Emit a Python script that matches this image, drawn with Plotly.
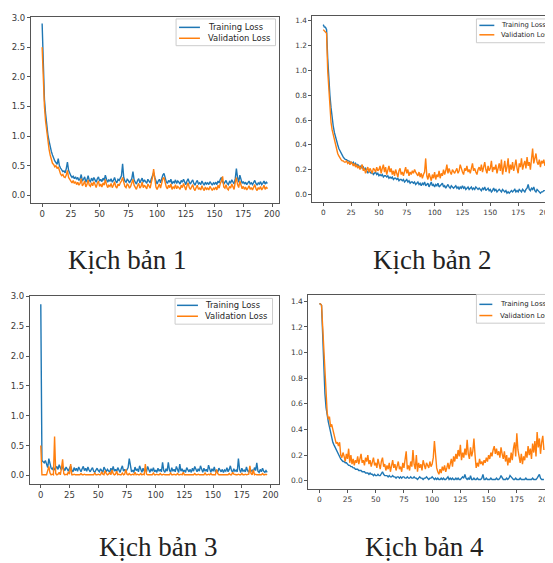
import plotly.graph_objects as go

# ---------------- data ----------------
epochs_a = list(range(0, 197))   # Kịch bản 1
epochs_b = list(range(0, 200))   # Kịch bản 2
epochs_c = list(range(0, 198))   # Kịch bản 3
epochs_d = list(range(0, 200))   # Kịch bản 4

train_1 = [
    2.90, 2.05, 1.62, 1.38, 1.18, 1.02, 0.92, 0.80, 0.74, 0.68, 0.62, 0.58, 0.55, 0.52, 0.62, 0.50, 0.46, 0.42, 0.40, 0.41,
    0.38, 0.45, 0.56, 0.42, 0.36, 0.33, 0.30, 0.32, 0.28, 0.31,
    0.27, 0.30, 0.25, 0.28, 0.35, 0.24, 0.27, 0.31, 0.22, 0.26, 0.33, 0.25, 0.23, 0.29, 0.24, 0.30, 0.26, 0.22, 0.28, 0.31,
    0.24, 0.27, 0.23, 0.29, 0.25, 0.34, 0.27, 0.22, 0.26, 0.24,
    0.28, 0.22, 0.25, 0.30, 0.24, 0.21, 0.27, 0.25, 0.29, 0.33, 0.53, 0.30, 0.24, 0.22, 0.27, 0.25, 0.21, 0.24, 0.28, 0.40,
    0.26, 0.22, 0.19, 0.25, 0.28, 0.21, 0.24, 0.29, 0.22, 0.26,
    0.23, 0.20, 0.27, 0.24, 0.21, 0.28, 0.33, 0.38, 0.30, 0.22, 0.19, 0.24, 0.27, 0.21, 0.30, 0.34, 0.37, 0.28, 0.23, 0.20,
    0.25, 0.22, 0.27, 0.19, 0.23, 0.21, 0.26, 0.20, 0.24, 0.22,
    0.19, 0.25, 0.22, 0.27, 0.21, 0.18, 0.24, 0.28, 0.22, 0.19, 0.23, 0.26, 0.20, 0.17, 0.22, 0.25, 0.19, 0.21, 0.18, 0.24,
    0.20, 0.17, 0.22, 0.19, 0.21, 0.18, 0.23, 0.20, 0.17, 0.21,
    0.19, 0.22, 0.18, 0.24, 0.21, 0.27, 0.30, 0.23, 0.19, 0.22, 0.25, 0.20, 0.18, 0.23, 0.21, 0.26, 0.22, 0.19, 0.28, 0.45,
    0.30, 0.22, 0.34, 0.25, 0.20, 0.23, 0.19, 0.22, 0.18, 0.21,
    0.24, 0.19, 0.21, 0.18, 0.22, 0.25, 0.20, 0.17, 0.21, 0.19, 0.23, 0.18, 0.20, 0.24, 0.19, 0.22, 0.20,
]
val_1 = [
    2.50, 1.85, 1.50, 1.25, 1.05, 0.90, 0.78, 0.68, 0.60, 0.54, 0.52, 0.48, 0.50, 0.45, 0.48, 0.40, 0.36, 0.33, 0.35, 0.31,
    0.30, 0.34, 0.42, 0.30, 0.26, 0.24, 0.21, 0.25, 0.20, 0.23,
    0.18, 0.22, 0.17, 0.20, 0.28, 0.16, 0.19, 0.24, 0.14, 0.18, 0.26, 0.17, 0.15, 0.21, 0.16, 0.23, 0.18, 0.13, 0.20, 0.24,
    0.15, 0.19, 0.14, 0.21, 0.17, 0.27, 0.18, 0.13, 0.17, 0.15,
    0.20, 0.13, 0.17, 0.23, 0.15, 0.12, 0.19, 0.16, 0.21, 0.24, 0.30, 0.20, 0.15, 0.13, 0.19, 0.17, 0.12, 0.15, 0.20, 0.27,
    0.17, 0.13, 0.10, 0.16, 0.20, 0.12, 0.15, 0.22, 0.13, 0.17,
    0.14, 0.11, 0.19, 0.15, 0.12, 0.22, 0.30, 0.44, 0.26, 0.14, 0.10, 0.16, 0.19, 0.12, 0.23, 0.28, 0.30, 0.20, 0.14, 0.11,
    0.17, 0.13, 0.19, 0.10, 0.14, 0.12, 0.18, 0.11, 0.15, 0.13,
    0.10, 0.17, 0.13, 0.20, 0.12, 0.09, 0.16, 0.21, 0.13, 0.10, 0.14, 0.18, 0.11, 0.08, 0.13, 0.17, 0.10, 0.12, 0.09, 0.16,
    0.11, 0.08, 0.14, 0.10, 0.12, 0.09, 0.15, 0.11, 0.08, 0.12,
    0.10, 0.14, 0.09, 0.17, 0.12, 0.20, 0.24, 0.32, 0.14, 0.12, 0.18, 0.11, 0.09, 0.15, 0.12, 0.19, 0.13, 0.10, 0.22, 0.30,
    0.18, 0.13, 0.24, 0.16, 0.11, 0.15, 0.10, 0.14, 0.09, 0.12,
    0.16, 0.10, 0.13, 0.09, 0.14, 0.18, 0.11, 0.08, 0.13, 0.10, 0.15, 0.09, 0.12, 0.17, 0.10, 0.14, 0.11,
]

train_2 = [
    1.37, 1.35, 1.35, 1.33, 1.10, 0.92, 0.80, 0.70, 0.61, 0.55, 0.50, 0.46, 0.43, 0.40, 0.37, 0.35, 0.33, 0.31, 0.30, 0.29,
    0.28, 0.28, 0.27, 0.27, 0.26, 0.26, 0.25, 0.26, 0.24, 0.25, 0.23, 0.24, 0.23, 0.22, 0.23, 0.21, 0.22, 0.20, 0.21, 0.19,
    0.17, 0.19, 0.18, 0.17, 0.18, 0.16, 0.17, 0.18, 0.16, 0.17, 0.15, 0.16, 0.15, 0.16, 0.14, 0.15, 0.15, 0.14, 0.15, 0.13,
    0.14, 0.13, 0.14, 0.12, 0.13, 0.13, 0.12, 0.13, 0.11, 0.12, 0.12, 0.11, 0.12, 0.10, 0.11, 0.12, 0.10, 0.11, 0.09, 0.10,
    0.10, 0.09, 0.10, 0.08, 0.09, 0.10, 0.08, 0.09, 0.07, 0.09, 0.08, 0.10, 0.07, 0.08, 0.09, 0.06, 0.08, 0.10, 0.07, 0.08,
    0.06, 0.08, 0.07, 0.09, 0.06, 0.07, 0.08, 0.09, 0.06, 0.07, 0.05, 0.07, 0.08, 0.06, 0.05, 0.07, 0.06, 0.05, 0.06, 0.07,
    0.05, 0.06, 0.04, 0.06, 0.05, 0.07, 0.05, 0.06, 0.04, 0.05, 0.06, 0.04, 0.05, 0.06, 0.04, 0.05, 0.04, 0.06, 0.05, 0.04,
    0.05, 0.04, 0.03, 0.05, 0.04, 0.06, 0.03, 0.04, 0.05, 0.03, 0.04, 0.02, 0.03, 0.05, 0.03, 0.04, 0.02, 0.03, 0.04, 0.03,
    0.02, 0.04, 0.03, 0.02, 0.03, 0.01, 0.02, 0.01, 0.02, 0.03, 0.02, 0.03, 0.04, 0.02, 0.03, 0.02, 0.04, 0.03, 0.02, 0.04,
    0.03, 0.02, 0.04, 0.05, 0.08, 0.04, 0.03, 0.05, 0.04, 0.06, 0.03, 0.02, 0.04, 0.03, 0.02, 0.01, 0.02, 0.02, 0.03, 0.03,
]
val_2 = [
    1.33, 1.32, 1.31, 1.30, 1.00, 0.82, 0.68, 0.58, 0.52, 0.48, 0.44, 0.40, 0.36, 0.33, 0.31, 0.29, 0.28, 0.27, 0.27, 0.26,
    0.26, 0.27, 0.25, 0.26, 0.24, 0.26, 0.25, 0.23, 0.25, 0.22, 0.24, 0.21, 0.23, 0.20, 0.22, 0.24, 0.19, 0.21, 0.17, 0.20,
    0.22, 0.18, 0.21, 0.19, 0.17, 0.21, 0.20, 0.18, 0.22, 0.19, 0.20, 0.23, 0.17, 0.21, 0.24, 0.18, 0.22, 0.16, 0.20, 0.23,
    0.18, 0.21, 0.16, 0.19, 0.15, 0.20, 0.17, 0.14, 0.19, 0.21, 0.16, 0.18, 0.15, 0.19, 0.22, 0.17, 0.20, 0.15, 0.18, 0.16,
    0.19, 0.17, 0.20, 0.18, 0.16, 0.15, 0.18, 0.14, 0.17, 0.13, 0.16, 0.18, 0.29, 0.15, 0.12, 0.17, 0.14, 0.11, 0.16, 0.13,
    0.18, 0.12, 0.16, 0.14, 0.19, 0.13, 0.17, 0.15, 0.20, 0.16, 0.19, 0.24, 0.17, 0.21, 0.18, 0.16, 0.20, 0.18, 0.17, 0.19,
    0.21, 0.17, 0.19, 0.24, 0.20, 0.18, 0.16, 0.21, 0.19, 0.23, 0.18, 0.20, 0.17, 0.22, 0.25, 0.19, 0.21, 0.18, 0.16, 0.20,
    0.22, 0.19, 0.24, 0.18, 0.21, 0.26, 0.20, 0.17, 0.23, 0.19, 0.21, 0.27, 0.18, 0.22, 0.20, 0.24, 0.17, 0.21, 0.25, 0.19,
    0.28, 0.16, 0.23, 0.27, 0.18, 0.22, 0.29, 0.17, 0.24, 0.20, 0.26, 0.19, 0.23, 0.28, 0.21, 0.17, 0.25, 0.22, 0.29, 0.20,
    0.24, 0.27, 0.21, 0.30, 0.23, 0.26, 0.20, 0.31, 0.37, 0.25, 0.29, 0.33, 0.26, 0.24, 0.28, 0.22, 0.27, 0.25, 0.28, 0.23,
]

train_3 = [
    2.87, 0.25, 0.23, 0.21, 0.25, 0.17, 0.13, 0.28, 0.19, 0.12, 0.10, 0.14, 0.09, 0.12, 0.15, 0.10, 0.18, 0.13, 0.09, 0.15,
    0.11, 0.08, 0.14, 0.10, 0.07, 0.12, 0.16, 0.09, 0.06, 0.13, 0.08, 0.12, 0.07, 0.14, 0.09, 0.06, 0.11, 0.15, 0.08, 0.12,
    0.07, 0.14, 0.09, 0.06, 0.10, 0.13, 0.07, 0.05, 0.09, 0.12, 0.08, 0.06, 0.11, 0.07, 0.05, 0.14, 0.09, 0.06, 0.10, 0.07,
    0.05, 0.12, 0.08, 0.15, 0.07, 0.10, 0.06, 0.13, 0.09, 0.05, 0.11, 0.16, 0.07, 0.10, 0.06, 0.09, 0.13, 0.28, 0.12, 0.06,
    0.09, 0.05, 0.14, 0.08, 0.11, 0.06, 0.16, 0.09, 0.05, 0.12, 0.07, 0.10, 0.06, 0.15, 0.08, 0.05, 0.11, 0.07, 0.13, 0.06,
    0.09, 0.05, 0.12, 0.07, 0.10, 0.06, 0.22, 0.08, 0.05, 0.11, 0.07, 0.22, 0.09, 0.05, 0.13, 0.07, 0.10, 0.06, 0.15, 0.08,
    0.05, 0.19, 0.07, 0.11, 0.06, 0.09, 0.05, 0.13, 0.08, 0.06, 0.10, 0.05, 0.12, 0.07, 0.15, 0.09, 0.06, 0.11, 0.07, 0.16,
    0.08, 0.05, 0.12, 0.07, 0.10, 0.06, 0.17, 0.09, 0.05, 0.11, 0.07, 0.14, 0.06, 0.09, 0.05, 0.12, 0.08, 0.06, 0.10, 0.05,
    0.09, 0.07, 0.13, 0.06, 0.10, 0.16, 0.08, 0.05, 0.11, 0.07, 0.09, 0.06, 0.28, 0.10, 0.05, 0.12, 0.07, 0.09, 0.06, 0.14,
    0.08, 0.05, 0.11, 0.07, 0.09, 0.06, 0.13, 0.08, 0.21, 0.07, 0.05, 0.10, 0.06, 0.12, 0.07, 0.05, 0.08, 0.05,
]
val_3 = [
    0.50, 0.01, 0.01, 0.01, 0.02, 0.01, 0.08, 0.15, 0.04, 0.01, 0.02, 0.01, 0.65, 0.03, 0.01, 0.02, 0.05, 0.01, 0.12, 0.27,
    0.03, 0.01, 0.02, 0.01, 0.06, 0.02, 0.19, 0.01, 0.01, 0.02, 0.01, 0.01, 0.02, 0.01, 0.01, 0.03, 0.01, 0.01, 0.02, 0.01,
    0.01, 0.02, 0.01, 0.01, 0.01, 0.02, 0.01, 0.04, 0.01, 0.01, 0.02, 0.01, 0.01, 0.06, 0.02, 0.01, 0.08, 0.03, 0.01, 0.02,
    0.05, 0.01, 0.09, 0.03, 0.01, 0.02, 0.07, 0.01, 0.02, 0.01, 0.01, 0.04, 0.01, 0.02, 0.10, 0.02, 0.01, 0.03, 0.01, 0.01,
    0.02, 0.01, 0.05, 0.01, 0.02, 0.01, 0.01, 0.03, 0.01, 0.02, 0.01, 0.19, 0.02, 0.01, 0.01, 0.02, 0.01, 0.01, 0.04, 0.01,
    0.01, 0.02, 0.01, 0.01, 0.03, 0.01, 0.01, 0.02, 0.01, 0.01, 0.02, 0.01, 0.01, 0.04, 0.01, 0.01, 0.02, 0.01, 0.01, 0.03,
    0.01, 0.01, 0.02, 0.01, 0.05, 0.01, 0.01, 0.02, 0.01, 0.01, 0.01, 0.02, 0.01, 0.01, 0.03, 0.01, 0.01, 0.02, 0.01, 0.01,
    0.02, 0.01, 0.01, 0.04, 0.01, 0.01, 0.02, 0.01, 0.03, 0.01, 0.01, 0.02, 0.01, 0.10, 0.03, 0.01, 0.01, 0.02, 0.01, 0.01,
    0.01, 0.02, 0.01, 0.01, 0.03, 0.01, 0.01, 0.05, 0.02, 0.01, 0.01, 0.01, 0.02, 0.01, 0.01, 0.03, 0.01, 0.01, 0.02, 0.01,
    0.01, 0.02, 0.16, 0.03, 0.01, 0.09, 0.01, 0.02, 0.01, 0.01, 0.02, 0.01, 0.01, 0.03, 0.01, 0.01, 0.02, 0.01,
]

train_4 = [
    1.38, 1.38, 1.37, 1.10, 0.85, 0.68, 0.57, 0.50, 0.46, 0.42, 0.37, 0.33, 0.30, 0.28, 0.26, 0.24, 0.22, 0.20, 0.18, 0.17,
    0.16, 0.15, 0.15, 0.14, 0.14, 0.13, 0.12, 0.12, 0.11, 0.11, 0.10, 0.10, 0.09, 0.09, 0.09, 0.08, 0.08, 0.08, 0.07, 0.07,
    0.07, 0.06, 0.06, 0.06, 0.05, 0.06, 0.05, 0.05, 0.04, 0.05, 0.04, 0.04, 0.05, 0.04, 0.04, 0.06, 0.07, 0.05, 0.04, 0.04,
    0.04, 0.03, 0.04, 0.03, 0.03, 0.04, 0.03, 0.03, 0.02, 0.03, 0.03, 0.02, 0.03, 0.02, 0.03, 0.03, 0.02, 0.02, 0.03, 0.02,
    0.02, 0.03, 0.02, 0.02, 0.03, 0.02, 0.02, 0.01, 0.02, 0.03, 0.02, 0.02, 0.01, 0.02, 0.02, 0.03, 0.02, 0.01, 0.02, 0.02,
    0.03, 0.02, 0.01, 0.02, 0.01, 0.02, 0.01, 0.01, 0.02, 0.01, 0.02, 0.01, 0.01, 0.02, 0.03, 0.01, 0.02, 0.01, 0.02, 0.01,
    0.01, 0.02, 0.01, 0.02, 0.01, 0.01, 0.02, 0.03, 0.02, 0.05, 0.02, 0.01, 0.02, 0.01, 0.04, 0.01, 0.01, 0.02, 0.01, 0.01,
    0.02, 0.01, 0.01, 0.01, 0.02, 0.05, 0.01, 0.01, 0.02, 0.01, 0.01, 0.01, 0.02, 0.01, 0.01, 0.01, 0.01, 0.02, 0.01, 0.01,
    0.02, 0.04, 0.02, 0.01, 0.01, 0.01, 0.02, 0.01, 0.02, 0.04, 0.03, 0.02, 0.01, 0.01, 0.02, 0.01, 0.01, 0.01, 0.02, 0.01,
    0.01, 0.01, 0.01, 0.02, 0.01, 0.01, 0.01, 0.01, 0.01, 0.02, 0.01, 0.01, 0.01, 0.02, 0.04, 0.05, 0.02, 0.01, 0.01, 0.01,
]
val_4 = [
    1.38, 1.38, 1.37, 1.20, 0.95, 0.76, 0.62, 0.53, 0.48, 0.50, 0.42, 0.44, 0.40, 0.36, 0.31, 0.29, 0.30, 0.27, 0.30, 0.20,
    0.18, 0.22, 0.19, 0.15, 0.21, 0.17, 0.25, 0.14, 0.20, 0.13, 0.17, 0.12, 0.16, 0.14, 0.19, 0.13, 0.17, 0.21, 0.14, 0.16,
    0.12, 0.18, 0.15, 0.20, 0.13, 0.16, 0.11, 0.15, 0.18, 0.12, 0.14, 0.10, 0.17, 0.13, 0.09, 0.15, 0.18, 0.11, 0.13, 0.08,
    0.12, 0.09, 0.14, 0.07, 0.11, 0.16, 0.10, 0.13, 0.08, 0.12, 0.15, 0.09, 0.11, 0.07, 0.14, 0.10, 0.18, 0.23, 0.09, 0.12,
    0.08, 0.15, 0.11, 0.24, 0.13, 0.09, 0.20, 0.07, 0.14, 0.10, 0.13, 0.08, 0.16, 0.11, 0.09, 0.14, 0.12, 0.10, 0.15, 0.11,
    0.13, 0.18, 0.31, 0.16, 0.10, 0.07, 0.05, 0.09, 0.06, 0.11, 0.08, 0.12, 0.07, 0.10, 0.14, 0.09, 0.13, 0.17, 0.11, 0.19,
    0.15, 0.21, 0.17, 0.24, 0.19, 0.28, 0.16, 0.22, 0.18, 0.25, 0.20, 0.32, 0.21, 0.17, 0.26, 0.19, 0.23, 0.33, 0.20, 0.10,
    0.14, 0.11, 0.17, 0.13, 0.15, 0.12, 0.16, 0.14, 0.18, 0.15, 0.20, 0.17, 0.22, 0.19, 0.24, 0.27, 0.21, 0.25, 0.20, 0.23,
    0.18, 0.26, 0.21, 0.17, 0.23, 0.15, 0.20, 0.12, 0.18, 0.14, 0.22, 0.16, 0.25, 0.30, 0.19, 0.37, 0.24, 0.18, 0.14, 0.21,
    0.13, 0.19, 0.16, 0.23, 0.18, 0.27, 0.20, 0.25, 0.17, 0.29, 0.22, 0.31, 0.19, 0.38, 0.26, 0.33, 0.21, 0.30, 0.35, 0.24,
]

captions = ["Kịch bản 1", "Kịch bản 2", "Kịch bản 3", "Kịch bản 4"]
series_names = ["Training Loss", "Validation Loss"]
x_ticks = [0, 25, 50, 75, 100, 125, 150, 175, 200]
y_ticks_big = [0.0, 0.5, 1.0, 1.5, 2.0, 2.5, 3.0]
y_ticks_small = [0.0, 0.2, 0.4, 0.6, 0.8, 1.0, 1.2, 1.4]

BLUE = "#1f77b4"
ORANGE = "#ff7f0e"
SPINE = "#555555"
TICKTXT = "#3a3a3a"

# The page body has an 8px default margin: lay out in window pixels, then shift.
VIEW_W, VIEW_H = 553, 563
OFF = 8
FW, FH = VIEW_W - OFF, VIEW_H - OFF


def px_x(p):
    return (p - OFF) / FW


def px_y(p):
    return 1 - (p - OFF) / FH


panels = [
    dict(ep=epochs_a, tr=train_1, va=val_1, xd=(31, 281), yd=(12, 200), xr=[-9.8, 206.5], yr=[-0.135, 3.01],
         yt=y_ticks_big, right=True, tf=8.5,
         box=(177, 14, 277, 41), line_x=(180, 201), rows=(22.5, 33.5), text_x=207, lf=8.4),
    dict(ep=epochs_b, tr=train_2, va=val_2, xd=(314, 553), yd=(11, 199), xr=[-9.8, 203.6], yr=[-0.064, 1.44],
         yt=y_ticks_small, right=False, tf=7.3,
         box=(479, 14, 570, 38), line_x=(482, 497), rows=(20.5, 30.0), text_x=502, lf=6.8),
    dict(ep=epochs_c, tr=train_3, va=val_3, xd=(30, 280), yd=(294, 483), xr=[-9.5, 206.9], yr=[-0.14, 3.0],
         yt=y_ticks_big, right=True, tf=8.5,
         box=(176, 296, 274, 322), line_x=(178, 199), rows=(303.0, 314.0), text_x=204, lf=8.4),
    dict(ep=epochs_d, tr=train_4, va=val_4, xd=(310, 553), yd=(293, 488), xr=[-9.7, 204.4], yr=[-0.062, 1.446],
         yt=y_ticks_small, right=False, tf=7.5,
         box=(479, 292, 570, 321), line_x=(482, 495), rows=(302.0, 313.3), text_x=501, lf=7.0),
]

fig = go.Figure()
layout = dict(
    width=FW, height=FH,
    margin=dict(l=0, r=0, t=0, b=0),
    paper_bgcolor="white", plot_bgcolor="white",
    showlegend=False,
)
shapes = []
annotations = []

for i, p in enumerate(panels):
    n = "" if i == 0 else str(i + 1)
    fig.add_trace(go.Scatter(x=p["ep"], y=p["tr"], mode="lines", name=series_names[0],
                             line=dict(color=BLUE, width=1.4), xaxis="x" + n, yaxis="y" + n))
    fig.add_trace(go.Scatter(x=p["ep"], y=p["va"], mode="lines", name=series_names[1],
                             line=dict(color=ORANGE, width=1.4), xaxis="x" + n, yaxis="y" + n))
    layout["xaxis" + n] = dict(
        domain=[max(0, px_x(p["xd"][0])), min(1, px_x(p["xd"][1]))], range=p["xr"], anchor="y" + n,
        tickmode="array", tickvals=x_ticks, ticks="outside", ticklen=3, tickcolor=SPINE,
        showline=True, linecolor=SPINE, linewidth=1, mirror=True, showgrid=False, zeroline=False,
        tickfont=dict(family="DejaVu Sans", size=p["tf"], color=TICKTXT), ticklabeloverflow="allow",
    )
    layout["yaxis" + n] = dict(
        domain=[px_y(p["yd"][1]), px_y(p["yd"][0])], range=p["yr"], anchor="x" + n,
        tickmode="array", tickvals=p["yt"], tickformat=".1f", ticks="outside", ticklen=3, tickcolor=SPINE,
        showline=True, linecolor=SPINE, linewidth=1, mirror=p["right"], showgrid=False, zeroline=False,
        tickfont=dict(family="DejaVu Sans", size=p["tf"], color=TICKTXT),
    )
    # legend frame (matplotlib style, inside upper right)
    bx0, by0, bx1, by1 = p["box"]
    shapes.append(dict(type="rect", xref="paper", yref="paper",
                       x0=px_x(bx0), x1=px_x(bx1), y0=px_y(by1), y1=px_y(by0),
                       fillcolor="rgba(255,255,255,0.9)", line=dict(color="#cccccc", width=1), layer="above"))
    for name, color, ry in zip(series_names, (BLUE, ORANGE), p["rows"]):
        shapes.append(dict(type="line", xref="paper", yref="paper",
                           x0=px_x(p["line_x"][0]), x1=px_x(p["line_x"][1]), y0=px_y(ry), y1=px_y(ry),
                           line=dict(color=color, width=1.5), layer="above"))
        annotations.append(dict(text=name, x=px_x(p["text_x"]), y=px_y(ry), xref="paper", yref="paper",
                                xanchor="left", yanchor="middle", showarrow=False,
                                font=dict(family="DejaVu Sans", size=p["lf"], color="#262626")))

cap_pos = [(128, 257), (434, 257), (159, 547), (427, 547)]
for text, (cx, cy) in zip(captions, cap_pos):
    annotations.append(dict(
        text=text, x=px_x(cx), y=px_y(cy), xref="paper", yref="paper",
        xanchor="center", yanchor="middle", showarrow=False,
        font=dict(family="Liberation Serif", size=27, color="#222222"),
    ))

layout["shapes"] = shapes
layout["annotations"] = annotations
fig.update_layout(**layout)
fig.write_html("out.html")
